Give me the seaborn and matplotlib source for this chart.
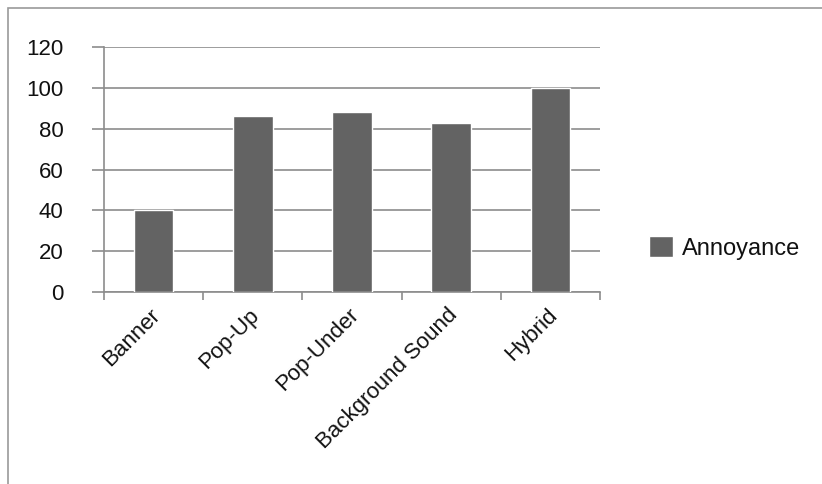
import matplotlib
matplotlib.use("Agg")
import matplotlib.pyplot as plt
import matplotlib.transforms as mtransforms
import seaborn as sns
import pandas as pd
from matplotlib.patches import Rectangle

categories = ["Banner", "Pop-Up", "Pop-Under", "Background Sound", "Hybrid"]
values = [40, 86, 88, 83, 100]
series_name = "Annoyance"
yticks = [0, 20, 40, 60, 80, 100, 120]

sns.set_theme(style="white")
plt.rcParams["font.family"] = ["Liberation Sans", "DejaVu Sans"]

W, H = 822, 484
fig = plt.figure(figsize=(W / 100, H / 100), dpi=100)
ax = fig.add_axes([104 / W, 1 - 292 / H, (600 - 104) / W, (292 - 47) / H])

df = pd.DataFrame({"cat": categories, "val": values})
sns.barplot(data=df, x="cat", y="val", color="#636363", saturation=1,
            width=0.4, ax=ax, label=series_name, zorder=3)

grid_c = "#8c8c8c"
ax.set_ylim(0, 120)
ax.set_xlim(-0.5, len(categories) - 0.5)
ax.set_yticks(yticks)
ax.set_yticklabels([str(v) for v in yticks], fontsize=16, color="#111111")
ax.yaxis.grid(True, color=grid_c, linewidth=1.2, zorder=0)
ax.tick_params(axis="y", length=9, width=1.2, color=grid_c, pad=20, left=True)

ax.set_xticks(range(len(categories)))
ax.set_xticklabels(categories, rotation=45, ha="right", rotation_mode="anchor",
                   fontsize=16, color="#111111")
ax.tick_params(axis="x", which="major", length=0, pad=9)
offset = mtransforms.ScaledTranslation(-4 / 100, 0, fig.dpi_scale_trans)
for lab in ax.get_xticklabels():
    lab.set_transform(lab.get_transform() + offset)
ax.set_xticks([i - 0.5 for i in range(len(categories) + 1)], minor=True)
ax.tick_params(axis="x", which="minor", length=6, width=1.2, color=grid_c, bottom=True)

for s in ["top", "right"]:
    ax.spines[s].set_visible(False)
for s in ["left", "bottom"]:
    ax.spines[s].set_color(grid_c)
    ax.spines[s].set_linewidth(1.2)
ax.set_xlabel("")
ax.set_ylabel("")

leg = ax.legend(loc="center left", bbox_to_anchor=(628 / W, 1 - 248 / H),
                bbox_transform=fig.transFigure, frameon=False, fontsize=17,
                handlelength=1.0, handleheight=1.0, handletextpad=0.4)
for t in leg.get_texts():
    t.set_color("#111111")

fig.patches.append(Rectangle((8 / W, -0.1), 1.2, 1.1 - 8 / H,
                             transform=fig.transFigure, fill=False,
                             edgecolor="#9a9a9a", linewidth=1.2, figure=fig))

fig.savefig("out.png", dpi=100)
